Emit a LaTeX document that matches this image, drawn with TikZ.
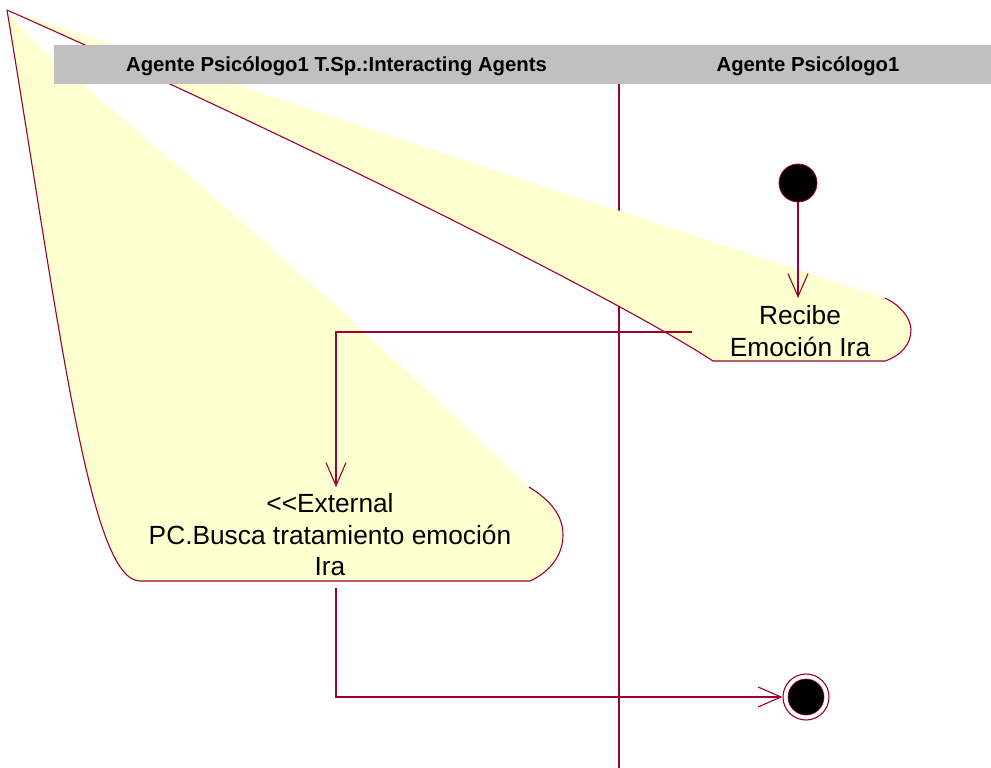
\documentclass[tikz,border=0pt]{standalone}
\usepackage{fontspec}
\setmainfont{Liberation Sans}
\usetikzlibrary{arrows.meta}
\definecolor{rose}{RGB}{153,0,51}
\definecolor{actfill}{RGB}{255,255,208}
\definecolor{lanegray}{RGB}{192,192,192}

\begin{document}
\begin{tikzpicture}[x=1pt,y=-1pt,
  rline/.style={draw=rose, line width=1.1pt},
  trans/.style={rline, -{Straight Barb[length=23pt,width=20pt]}},
  lanehead/.style={font=\fontsize{20.3}{24}\selectfont\bfseries, anchor=base, inner sep=0pt},
  acttext/.style={font=\fontsize{26.3}{31.5}\selectfont, align=center, inner sep=0pt},
  pseudo/.style={circle, inner sep=0pt},
]
\useasboundingbox (0,0) rectangle (991,768);

% swimlane divider
\draw[rline] (619,84) -- (619,768);

% activity "Recibe Emocion Ira"
\fill[actfill] (7,10) -- (885,298) .. controls (900,305) and (911,318) .. (911,330)
  .. controls (911,345) and (900,356) .. (885,361) -- (713,361)
  .. controls (620,300) and (300,140) .. (7,10) -- cycle;
\draw[rline] (885,298) .. controls (900,305) and (911,318) .. (911,330)
  .. controls (911,345) and (900,356) .. (885,361) -- (713,361)
  .. controls (620,300) and (300,140) .. (7,10);

% activity "External PC.Busca ..."
\fill[actfill] (7,10) .. controls (30,50) and (200,170) .. (529,487)
  .. controls (550,500) and (563,515) .. (563,535)
  .. controls (563,555) and (550,572) .. (530,581) -- (140,581)
  .. controls (90,581) and (60,330) .. (7,10) -- cycle;
\draw[rline] (529,487) .. controls (550,500) and (563,515) .. (563,535)
  .. controls (563,555) and (550,572) .. (530,581) -- (140,581)
  .. controls (90,581) and (60,330) .. (7,10);

% swimlane header
\fill[lanegray] (54,45) rectangle (991,84);
\node[lanehead] (lane1) at (336.5,71) {Agente Psicólogo1 T.Sp.:Interacting Agents};
\node[lanehead] (lane2) at (808,71) {Agente Psicólogo1};

% activity labels
\node[acttext] (recibe) at (800,331) {Recibe\\Emoción Ira};
\node[acttext] (busca) at (330,535) {<{}<External\\PC.Busca tratamiento emoción\\Ira};

% states
\node[pseudo, fill=black, draw=rose, line width=0.8pt, minimum size=38pt] (start) at (798,183) {};
\node[pseudo, draw=rose, line width=1.1pt, minimum size=46pt] (final) at (806,697) {};
\node[pseudo, fill=black, draw=rose, line width=0.6pt, minimum size=36pt] (finalcore) at (final.center) {};

% transition end points on the activity outlines
\coordinate (recibeIn) at (798,298);
\coordinate (recibeOut) at (692,332);
\coordinate (buscaIn) at (336,487);
\coordinate (buscaOut) at (336,588);

\draw[trans] (start.south) -- (recibeIn);
\draw[trans] (recibeOut) -| (buscaIn);
\draw[trans] (buscaOut) |- (final.west);
\end{tikzpicture}
\end{document}
